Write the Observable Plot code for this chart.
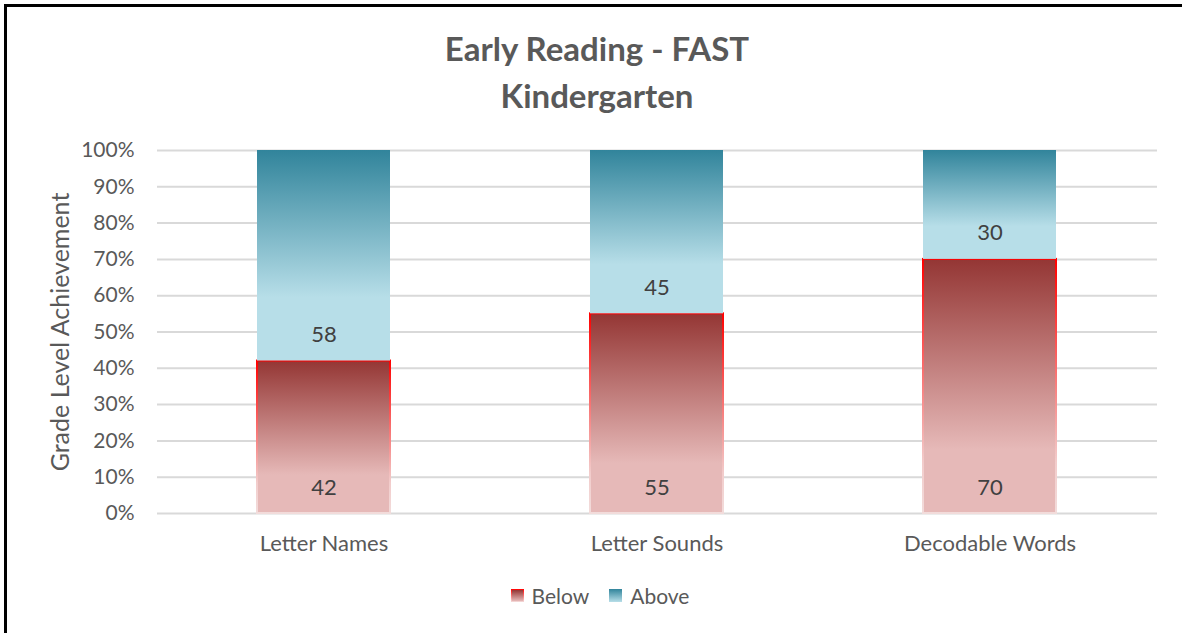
<!DOCTYPE html>
<html>
<head>
<meta charset="utf-8">
<script src="https://cdn.jsdelivr.net/npm/d3@7"></script>
<script src="https://cdn.jsdelivr.net/npm/@observablehq/plot@0.6"></script>
<style>
  html, body { margin: 0; padding: 0; background: #fff; }
  body { width: 1182px; height: 633px; overflow: hidden; position: relative; font-family: Lato, "Noto Sans", sans-serif; }
  #frame { position: absolute; left: 4px; top: 4px; width: 1300px; height: 800px; border-top: 3px solid #000; border-left: 3px solid #000; box-sizing: border-box; }
  #chart { position: absolute; left: 0; top: 0; }
  #title { position: absolute; left: 0; top: 25px; width: 1194px; text-align: center; font-weight: bold; font-size: 33px; line-height: 47px; color: #595959; }
  #legend { position: absolute; left: 0; top: 583px; width: 1200px; display: flex; justify-content: center; gap: 20px; font-size: 21px; color: #595959; }
  .item { display: flex; align-items: center; gap: 8px; }
  .sw { width: 13px; height: 13px; display: inline-block; box-sizing: border-box; }
  .sw.below { background: linear-gradient(#943634, #e6b9b8); border: 1.5px solid; border-image: linear-gradient(#ff0000, #f2dcdb) 1; }
  .sw.above { background: linear-gradient(#31849b, #b7dee8); }
</style>
</head>
<body>
<div id="frame"></div>
<div id="chart"></div>
<div id="title">Early Reading - FAST<br>Kindergarten</div>
<div id="legend">
  <div class="item"><span class="sw below"></span><span>Below</span></div>
  <div class="item"><span class="sw above"></span><span>Above</span></div>
</div>
<script>
const categories = ["Letter Names", "Letter Sounds", "Decodable Words"];
const belowValues = [42, 55, 70];
const aboveValues = [58, 45, 30];
const yTicks = [0, 10, 20, 30, 40, 50, 60, 70, 80, 90, 100];

const rows = categories.map((c, i) => ({ cat: c, below: belowValues[i], above: aboveValues[i], total: belowValues[i] + aboveValues[i] }));

const chart = Plot.plot({
  width: 1182,
  height: 633,
  marginTop: 150,
  marginBottom: 120,
  marginLeft: 157,
  marginRight: 25,
  style: { fontFamily: "Lato, 'Noto Sans', sans-serif", fontSize: "21px", color: "#595959", background: "transparent" },
  x: { domain: categories, paddingInner: 0.6, paddingOuter: 0.3, label: null },
  y: { domain: [0, 100] },
  marks: [
    Plot.ruleY(yTicks, { stroke: "#d9d9d9", strokeWidth: 2 }),
    Plot.barY(rows, { x: "cat", y1: d => 0, y2: "below", fill: "url(#gBelow)", stroke: "url(#sBelow)", strokeWidth: 2 }),
    Plot.barY(rows, { x: "cat", y1: "below", y2: "total", fill: "url(#gAbove)" }),
    Plot.text(rows, { x: "cat", y: d => 0, text: "below", dy: -26, fill: "#404040", fontSize: 22 }),
    Plot.text(rows, { x: "cat", y: "below", text: "above", dy: -26, fill: "#404040", fontSize: 22 }),
    Plot.axisX({ tickSize: 0, tickPadding: 22, fontSize: 22, label: null }),
    Plot.axisY({ ticks: yTicks, tickFormat: d => d + "%", tickSize: 0, tickPadding: 23, fontSize: 21, label: null }),
    Plot.axisY({ ticks: [], tickSize: 0, label: "Grade Level Achievement", labelAnchor: "center", labelOffset: 106, labelArrow: "none", fontSize: 25 })
  ]
});

const svg = d3.select(chart);
const defs = svg.insert("defs", ":first-child");
function grad(id, stops) {
  const g = defs.append("linearGradient").attr("id", id).attr("x1", 0).attr("y1", 0).attr("x2", 0).attr("y2", 1);
  stops.forEach(([o, c]) => g.append("stop").attr("offset", o).attr("stop-color", c));
}
grad("gBelow", [[0, "#943634"], [0.75, "#e6b9b8"], [1, "#e6b9b8"]]);
grad("sBelow", [[0, "#ff0000"], [0.8, "#f2cccb"], [1, "#f2dcdb"]]);
grad("gAbove", [[0, "#31849b"], [0.7, "#b7dee8"], [1, "#b7dee8"]]);

document.getElementById("chart").appendChild(chart);
</script>
</body>
</html>
